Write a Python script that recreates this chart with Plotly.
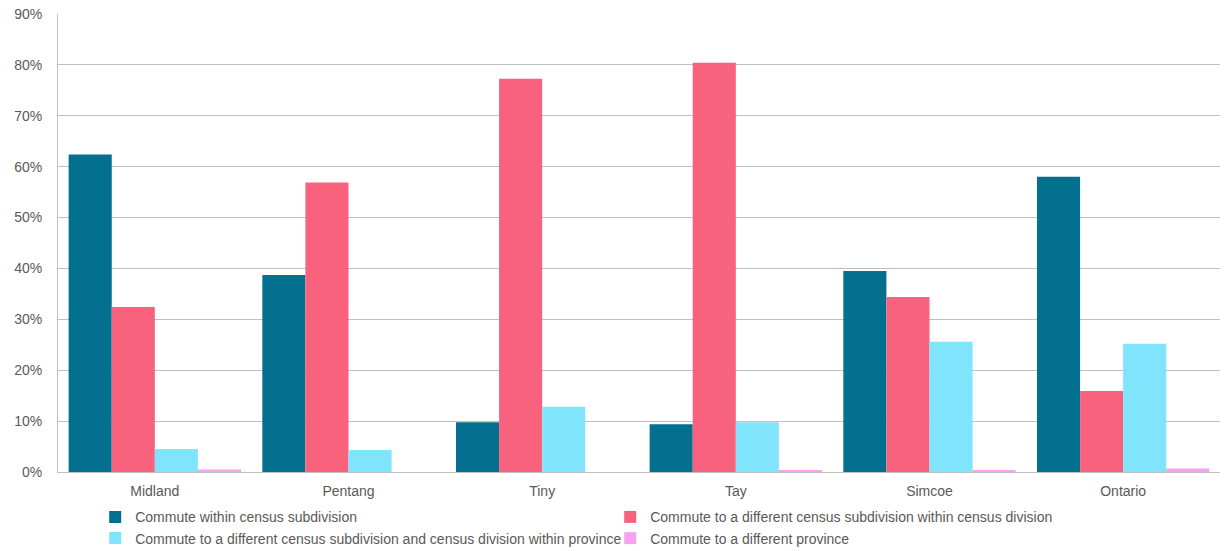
import plotly.graph_objects as go

categories = ["Midland", "Pentang", "Tiny", "Tay", "Simcoe", "Ontario"]
series_names = [
    "Commute within census subdivision",
    "Commute to a different census subdivision within census division",
    "Commute to a different census subdivision and census division within province",
    "Commute to a different province",
]
within_csd = [62.4, 38.7, 9.8, 9.4, 39.5, 58.0]
diff_csd_within_cd = [32.4, 56.9, 77.3, 80.4, 34.4, 15.9]
diff_csd_cd_within_prov = [4.5, 4.3, 12.8, 9.8, 25.6, 25.2]
diff_province = [0.5, 0.0, 0.0, 0.2, 0.2, 0.7]
tick_vals = [0, 10, 20, 30, 40, 50, 60, 70, 80, 90]
tick_text = ["0%", "10%", "20%", "30%", "40%", "50%", "60%", "70%", "80%", "90%"]

colors = ["#02708E", "#F9627D", "#80E4FC", "#F9A1F1"]
values = [within_csd, diff_csd_within_cd, diff_csd_cd_within_prov, diff_province]

fig = go.Figure()
for name, vals, col in zip(series_names, values, colors):
    fig.add_trace(go.Bar(
        x=categories, y=vals, name=name,
        marker=dict(color=col, line=dict(width=0)),
    ))

fig.update_layout(
    width=1224, height=551,
    margin=dict(l=58, r=4, t=14, b=79, autoexpand=False),
    barmode="group", bargap=0.11, bargroupgap=0,
    plot_bgcolor="white", paper_bgcolor="white",
    font=dict(family="Liberation Sans, Arial, sans-serif", size=14, color="#595959"),
    xaxis=dict(showline=True, linecolor="#BFBFBF", linewidth=1, ticks="",
               ticklabelstandoff=6,
               tickfont=dict(size=14, color="#595959")),
    yaxis=dict(range=[0, 90], tickvals=tick_vals, ticktext=tick_text,
               showgrid=True, gridcolor="#BFBFBF", gridwidth=1,
               showline=True, linecolor="#BFBFBF", linewidth=1,
               zeroline=False, ticks="", ticklen=0, ticklabelstandoff=12,
               tickfont=dict(size=14, color="#595959")),
    legend=dict(orientation="h", x=0.032, xanchor="left", y=-0.064, yanchor="top",
                entrywidth=470, entrywidthmode="pixels", itemwidth=30,
                font=dict(size=14, color="#595959"), traceorder="normal"),
    showlegend=True,
)
fig.write_html("out.html")
